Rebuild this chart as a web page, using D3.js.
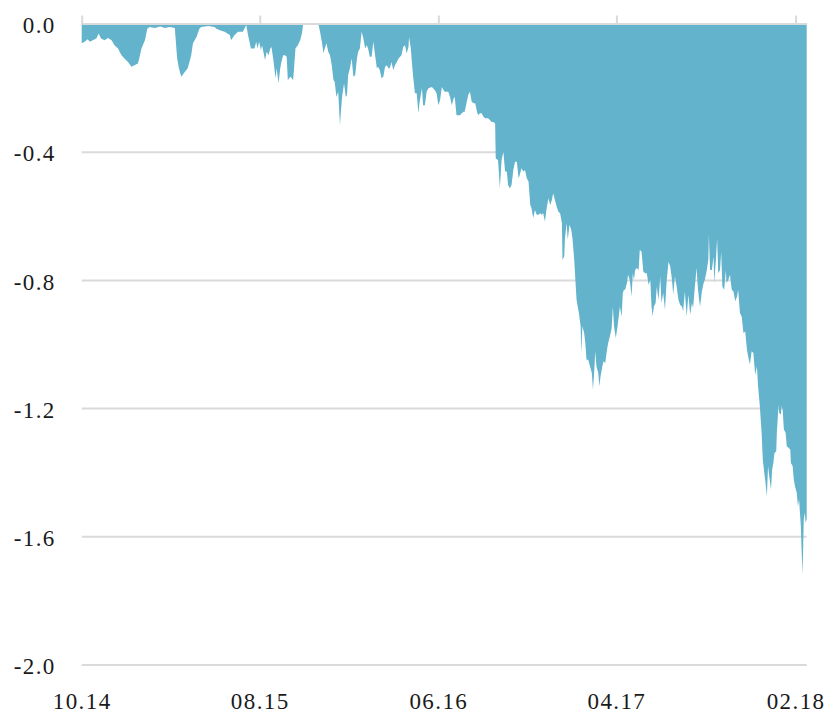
<!DOCTYPE html>
<html>
<head>
<meta charset="utf-8">
<script src="https://cdn.jsdelivr.net/npm/d3@7"></script>
<style>
  html, body { margin: 0; padding: 0; background: #ffffff; }
  svg { display: block; }
</style>
</head>
<body>
<svg id="chart" width="828" height="714"></svg>
<script>
// ---- data (drawdown series) ----
const dates = [
"2014-10-01","2014-10-06","2014-10-11","2014-10-15","2014-10-20","2014-10-26","2014-10-30","2014-11-03","2014-11-09","2014-11-15",
"2014-11-21","2014-11-26","2014-12-02","2014-12-08","2014-12-13","2014-12-19","2014-12-25","2014-12-30","2015-01-05","2015-01-08",
"2015-01-11","2015-01-17","2015-01-21","2015-01-25","2015-02-03","2015-02-12","2015-02-20","2015-02-28","2015-03-09","2015-03-13",
"2015-03-16","2015-03-20","2015-03-26","2015-03-31","2015-04-03","2015-04-06","2015-04-09","2015-04-15","2015-04-20","2015-04-23",
"2015-05-05","2015-05-16","2015-05-19","2015-05-25","2015-06-02","2015-06-11","2015-06-13","2015-06-19","2015-06-25","2015-07-03",
"2015-07-09","2015-07-12","2015-07-17","2015-07-23","2015-07-26","2015-07-28","2015-07-31","2015-08-03","2015-08-05","2015-08-10",
"2015-08-13","2015-08-16","2015-08-19","2015-08-21","2015-08-24","2015-08-28","2015-08-30","2015-09-02","2015-09-05","2015-09-07",
"2015-09-10","2015-09-13","2015-09-16","2015-09-18","2015-09-22","2015-09-25","2015-09-27","2015-09-29","2015-10-01","2015-10-05",
"2015-10-09","2015-10-12","2015-10-14","2015-10-16","2015-11-09","2015-11-12","2015-11-15","2015-11-18","2015-11-20","2015-11-23",
"2015-11-26","2015-11-29","2015-12-02","2015-12-05","2015-12-07","2015-12-10","2015-12-13","2015-12-16","2015-12-18","2015-12-20",
"2015-12-23","2015-12-26","2015-12-28","2015-12-30","2016-01-02","2016-01-05","2016-01-08","2016-01-11","2016-01-14","2016-01-16",
"2016-01-19","2016-01-22","2016-01-25","2016-01-28","2016-01-31","2016-02-02","2016-02-05","2016-02-08","2016-02-11","2016-02-14",
"2016-02-17","2016-02-19","2016-02-22","2016-02-25","2016-02-28","2016-03-02","2016-03-05","2016-03-08","2016-03-10","2016-03-13",
"2016-03-16","2016-03-19","2016-03-22","2016-03-25","2016-03-30","2016-04-02","2016-04-05","2016-04-08","2016-04-11","2016-04-12",
"2016-04-15","2016-04-17","2016-04-19","2016-04-22","2016-04-25","2016-04-28","2016-04-30","2016-05-04","2016-05-06","2016-05-09",
"2016-05-12","2016-05-15","2016-05-21","2016-05-23","2016-05-26","2016-05-29","2016-06-01","2016-06-04","2016-06-07","2016-06-10",
"2016-06-12","2016-06-18","2016-06-21","2016-06-24","2016-06-27","2016-06-29","2016-07-02","2016-07-08","2016-07-11","2016-07-14",
"2016-07-16","2016-07-19","2016-07-22","2016-07-25","2016-07-28","2016-07-31","2016-08-03","2016-08-06","2016-08-08","2016-08-11",
"2016-08-14","2016-08-17","2016-08-20","2016-08-25","2016-08-28","2016-08-31","2016-09-03","2016-09-06","2016-09-07","2016-09-11",
"2016-09-14","2016-09-17","2016-09-20","2016-09-23","2016-09-26","2016-09-28","2016-10-01","2016-10-04","2016-10-07","2016-10-10",
"2016-10-13","2016-10-16","2016-10-18","2016-10-21","2016-10-24","2016-10-27","2016-10-30","2016-11-02","2016-11-05","2016-11-07",
"2016-11-10","2016-11-13","2016-11-16","2016-11-19","2016-11-22","2016-11-24","2016-11-27","2016-11-30","2016-12-03","2016-12-06",
"2016-12-09","2016-12-12","2016-12-14","2016-12-17","2016-12-20","2016-12-23","2016-12-26","2016-12-29","2016-12-30","2017-01-02",
"2017-01-03","2017-01-06","2017-01-08","2017-01-11","2017-01-14","2017-01-16","2017-01-19","2017-01-21","2017-01-23","2017-01-25",
"2017-01-27","2017-01-30","2017-01-31","2017-02-02","2017-02-05","2017-02-07","2017-02-09","2017-02-12","2017-02-15","2017-02-18",
"2017-02-20","2017-02-22","2017-02-24","2017-02-26","2017-03-01","2017-03-03","2017-03-05","2017-03-08","2017-03-10","2017-03-13",
"2017-03-16","2017-03-18","2017-03-21","2017-03-24","2017-03-26","2017-03-28","2017-03-31","2017-04-03","2017-04-05","2017-04-07",
"2017-04-10","2017-04-12","2017-04-14","2017-04-16","2017-04-19","2017-04-21","2017-04-24","2017-04-27","2017-04-29","2017-05-01",
"2017-05-03","2017-05-06","2017-05-09","2017-05-11","2017-05-14","2017-05-17","2017-05-20","2017-05-23","2017-05-26","2017-05-29",
"2017-05-31","2017-06-02","2017-06-04","2017-06-07","2017-06-09","2017-06-12","2017-06-15","2017-06-17","2017-06-20","2017-06-23",
"2017-06-26","2017-06-29","2017-07-02","2017-07-05","2017-07-07","2017-07-10","2017-07-13","2017-07-16","2017-07-19","2017-07-22",
"2017-07-24","2017-07-27","2017-07-30","2017-08-02","2017-08-05","2017-08-08","2017-08-10","2017-08-13","2017-08-16","2017-08-18",
"2017-08-20","2017-08-22","2017-08-25","2017-08-28","2017-08-30","2017-09-02","2017-09-05","2017-09-06","2017-09-08","2017-09-11",
"2017-09-14","2017-09-15","2017-09-18","2017-09-20","2017-09-22","2017-09-25","2017-09-27","2017-09-29","2017-10-02","2017-10-05",
"2017-10-06","2017-10-09","2017-10-12","2017-10-15","2017-10-18","2017-10-21","2017-10-24","2017-10-26","2017-10-29","2017-11-01",
"2017-11-04","2017-11-07","2017-11-10","2017-11-12","2017-11-15","2017-11-18","2017-11-21","2017-11-24","2017-11-27","2017-11-29",
"2017-12-02","2017-12-05","2017-12-07","2017-12-09","2017-12-11","2017-12-14","2017-12-16","2017-12-18","2017-12-21","2017-12-23",
"2017-12-25","2017-12-27","2017-12-30","2017-12-31","2018-01-03","2018-01-04","2018-01-07","2018-01-08","2018-01-10","2018-01-12",
"2018-01-15","2018-01-17","2018-01-20","2018-01-23","2018-01-24","2018-01-27","2018-01-29","2018-01-31","2018-02-03","2018-02-05",
"2018-02-07","2018-02-10","2018-02-11","2018-02-13","2018-02-15","2018-02-17","2018-02-18","2018-02-20"
];
const values = [
-0.062,-0.057,-0.049,-0.057,-0.052,-0.047,-0.031,-0.047,-0.052,-0.045,
-0.052,-0.068,-0.078,-0.099,-0.109,-0.120,-0.135,-0.130,-0.125,-0.104,
-0.078,-0.052,-0.016,-0.011,-0.014,-0.009,-0.014,-0.011,-0.014,-0.109,
-0.140,-0.166,-0.151,-0.140,-0.120,-0.099,-0.062,-0.042,-0.016,-0.011,
-0.008,-0.011,-0.016,-0.021,-0.026,-0.036,-0.052,-0.036,-0.026,-0.026,
-0.005,-0.036,-0.078,-0.078,-0.057,-0.078,-0.057,-0.083,-0.068,-0.114,
-0.088,-0.099,-0.078,-0.073,-0.109,-0.171,-0.140,-0.187,-0.140,-0.120,
-0.099,-0.099,-0.104,-0.177,-0.166,-0.171,-0.177,-0.130,-0.078,-0.068,
-0.052,-0.031,-0.005,0.000,0.000,-0.026,-0.057,-0.093,-0.078,-0.062,
-0.088,-0.099,-0.130,-0.177,-0.182,-0.229,-0.213,-0.317,-0.265,-0.223,
-0.187,-0.229,-0.223,-0.161,-0.140,-0.109,-0.166,-0.161,-0.109,-0.088,
-0.078,-0.026,-0.047,-0.078,-0.068,-0.078,-0.104,-0.104,-0.057,-0.099,
-0.140,-0.135,-0.145,-0.171,-0.166,-0.135,-0.130,-0.140,-0.140,-0.120,
-0.145,-0.130,-0.120,-0.109,-0.099,-0.073,-0.068,-0.093,-0.073,-0.042,
-0.078,-0.125,-0.166,-0.218,-0.218,-0.280,-0.244,-0.202,-0.255,-0.255,
-0.213,-0.202,-0.198,-0.202,-0.208,-0.218,-0.255,-0.239,-0.198,-0.208,
-0.213,-0.213,-0.229,-0.255,-0.234,-0.229,-0.286,-0.286,-0.280,-0.275,
-0.275,-0.249,-0.223,-0.213,-0.244,-0.249,-0.249,-0.275,-0.286,-0.280,
-0.280,-0.291,-0.296,-0.296,-0.301,-0.307,-0.307,-0.312,-0.421,-0.426,
-0.514,-0.426,-0.400,-0.462,-0.462,-0.504,-0.514,-0.504,-0.457,-0.431,
-0.431,-0.483,-0.473,-0.452,-0.462,-0.457,-0.483,-0.493,-0.566,-0.576,
-0.607,-0.582,-0.597,-0.597,-0.592,-0.597,-0.592,-0.618,-0.576,-0.545,
-0.566,-0.550,-0.530,-0.550,-0.571,-0.587,-0.592,-0.623,-0.737,-0.727,
-0.675,-0.623,-0.675,-0.628,-0.644,-0.670,-0.737,-0.800,-0.862,-0.883,
-0.903,-0.945,-1.028,-0.945,-0.966,-0.997,-1.049,-1.049,-1.070,-1.090,
-1.142,-1.090,-1.023,-1.070,-1.090,-1.132,-1.101,-1.070,-1.054,-1.059,
-1.018,-0.997,-0.976,-0.950,-0.883,-0.945,-0.981,-0.945,-0.914,-0.883,
-0.914,-0.841,-0.831,-0.831,-0.810,-0.784,-0.800,-0.852,-0.779,-0.800,
-0.769,-0.763,-0.769,-0.706,-0.712,-0.774,-0.779,-0.779,-0.815,-0.800,
-0.883,-0.914,-0.883,-0.872,-0.821,-0.862,-0.789,-0.872,-0.841,-0.893,
-0.800,-0.743,-0.758,-0.800,-0.846,-0.789,-0.821,-0.862,-0.878,-0.883,
-0.898,-0.836,-0.914,-0.846,-0.909,-0.872,-0.888,-0.821,-0.763,-0.821,
-0.857,-0.883,-0.836,-0.810,-0.800,-0.774,-0.737,-0.659,-0.769,-0.769,
-0.727,-0.810,-0.737,-0.670,-0.779,-0.769,-0.712,-0.821,-0.831,-0.769,
-0.810,-0.800,-0.784,-0.831,-0.836,-0.867,-0.852,-0.831,-0.903,-0.914,
-0.966,-0.961,-1.018,-1.039,-1.064,-1.023,-1.028,-1.096,-1.070,-1.132,
-1.194,-1.277,-1.360,-1.392,-1.423,-1.475,-1.381,-1.412,-1.454,-1.392,
-1.371,-1.340,-1.335,-1.277,-1.189,-1.215,-1.220,-1.194,-1.205,-1.267,
-1.277,-1.319,-1.324,-1.329,-1.371,-1.381,-1.423,-1.444,-1.464,-1.506,
-1.485,-1.568,-1.630,-1.719,-1.547,-1.526,-1.558,-1.547
];
const yTicks = [0, -0.4, -0.8, -1.2, -1.6, -2.0];
const xTickDates = ["2014-10-01", "2015-08-01", "2016-06-01", "2017-04-01", "2018-02-01"];

// ---- build ----
const parse = d3.timeParse("%Y-%m-%d");
const data = dates.map((d, i) => ({ date: parse(d), value: values[i] }));
const xTicks = xTickDates.map(parse);

const plotLeft = 81.7, plotRight = 806.7, plotTop = 23.5, plotBottom = 664.5;
const x = d3.scaleTime().domain(d3.extent(data, d => d.date)).range([plotLeft, plotRight]);
const y = d3.scaleLinear().domain([-2, 0]).range([plotBottom, plotTop]);

const svg = d3.select("#chart");
const gridColor = "#dadada";
const labelFont = "'Liberation Serif', 'DejaVu Serif', serif";

function styleLabels(sel) {
  sel.attr("font-family", labelFont)
     .attr("font-size", 23)
     .attr("letter-spacing", "1.4px")
     .attr("fill", "#1a1a1a")
     .style("font-family", labelFont);
}

// y axis: grid lines behind + labels
const gy = svg.append("g")
  .attr("transform", `translate(${plotLeft},0)`)
  .call(d3.axisLeft(y).tickValues(yTicks).tickFormat(d => d.toFixed(1))
        .tickSize(-(plotRight - plotLeft)).tickPadding(26));
gy.attr("font-family", null).attr("font-size", null);
gy.select(".domain").remove();
gy.selectAll(".tick line").attr("stroke", gridColor).attr("stroke-width", 2);
gy.selectAll(".tick text").attr("dy", "0.4em").call(styleLabels);

// area
const area = d3.area()
  .x(d => x(d.date))
  .y0(y(0))
  .y1(d => y(d.value));
svg.append("path").datum(data)
  .attr("d", area)
  .attr("fill", "#62b3cb");

// top axis line (zero) with tick marks, drawn over the area
const gt = svg.append("g")
  .attr("transform", `translate(0,${y(0)})`)
  .call(d3.axisTop(x).tickValues(xTicks).tickSize(8).tickSizeOuter(0).tickFormat(""));
gt.select(".domain").attr("stroke", gridColor).attr("stroke-width", 2);
gt.selectAll(".tick line").attr("stroke", gridColor).attr("stroke-width", 2);

// bottom date labels
const gb = svg.append("g")
  .attr("transform", `translate(0,690)`)
  .call(d3.axisBottom(x).tickValues(xTicks).tickSize(0).tickFormat(d3.timeFormat("%m.%y")));
gb.attr("font-family", null).attr("font-size", null);
gb.select(".domain").remove();
gb.selectAll(".tick text").attr("y", 19).attr("dy", null).call(styleLabels);
</script>
</body>
</html>
